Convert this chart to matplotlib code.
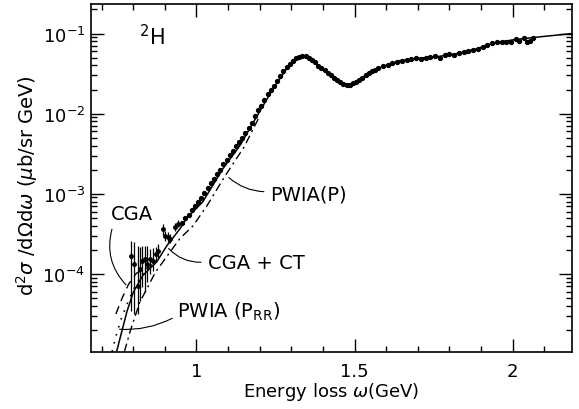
import matplotlib
matplotlib.use('Agg')
import matplotlib.pyplot as plt
from matplotlib.ticker import MultipleLocator, LogLocator, NullFormatter, FixedLocator

plt.rcParams['font.family'] = 'DejaVu Sans'
plt.rcParams['mathtext.fontset'] = 'dejavusans'

# measured data with error bars (low energy loss), cross sections in ub/sr GeV
w_err = [0.794, 0.801, 0.814, 0.820, 0.829, 0.836, 0.844, 0.852, 0.863,
         0.871, 0.877, 0.893, 0.900, 0.909, 0.916, 0.931, 0.941]
sig_err = [1.68e-4, 1.33e-4, 7.08e-5, 1.15e-4, 1.45e-4, 1.55e-4, 1.33e-4, 1.55e-4, 1.45e-4,
           1.78e-4, 1.95e-4, 3.63e-4, 2.99e-4, 2.88e-4, 2.75e-4, 3.89e-4, 4.22e-4]
bar_top = [2.57e-4, 2.51e-4, 2.24e-4, 2.19e-4, 2.24e-4, 2.24e-4, 2.24e-4, 2.04e-4, 2.09e-4,
           2.19e-4, 2.34e-4, 4.17e-4, 3.47e-4, 3.31e-4, 3.16e-4, 4.37e-4, 4.68e-4]
bar_bot = [3.47e-5, 3.16e-5, 3.16e-5, 4.57e-5, 6.92e-5, 6.03e-5, 7.94e-5, 1.00e-4, 1.10e-4,
           1.41e-4, 1.58e-4, 3.09e-4, 2.57e-4, 2.51e-4, 2.40e-4, 3.47e-4, 3.80e-4]

# measured data, rest of the spectrum
w_data = [0.955, 0.965, 0.975, 0.985, 0.995, 1.005, 1.015, 1.025, 1.035, 1.045,
          1.055, 1.065, 1.075, 1.085, 1.095, 1.105, 1.115, 1.125, 1.135, 1.145,
          1.155, 1.165, 1.175, 1.185, 1.195, 1.205, 1.215, 1.225, 1.235, 1.245,
          1.255, 1.265, 1.275, 1.285, 1.295, 1.305, 1.315, 1.325, 1.335, 1.345,
          1.355, 1.365, 1.375, 1.385, 1.395, 1.405, 1.415, 1.425, 1.435, 1.445,
          1.455, 1.465, 1.475, 1.485, 1.495, 1.505, 1.515, 1.525, 1.535, 1.545,
          1.555, 1.565, 1.575, 1.59, 1.605, 1.62, 1.635, 1.65, 1.665, 1.68,
          1.695, 1.71, 1.725, 1.74, 1.755, 1.77, 1.785, 1.80, 1.815, 1.83,
          1.845, 1.86, 1.875, 1.89, 1.905, 1.92, 1.935, 1.95, 1.965, 1.98,
          1.995, 2.01, 2.02, 2.035, 2.045, 2.055, 2.065]
sig_data = [4.37e-4, 5.01e-4, 5.50e-4, 6.31e-4, 7.08e-4, 7.94e-4, 8.91e-4, 1.02e-3, 1.18e-3, 1.38e-3,
            1.51e-3, 1.74e-3, 2.00e-3, 2.34e-3, 2.63e-3, 3.02e-3, 3.39e-3, 3.98e-3, 4.47e-3, 5.01e-3,
            5.75e-3, 6.61e-3, 7.59e-3, 9.33e-3, 1.10e-2, 1.26e-2, 1.48e-2, 1.74e-2, 2.00e-2, 2.24e-2,
            2.57e-2, 2.95e-2, 3.39e-2, 3.80e-2, 4.17e-2, 4.57e-2, 4.90e-2, 5.13e-2, 5.25e-2, 5.25e-2,
            5.01e-2, 4.68e-2, 4.37e-2, 3.98e-2, 3.72e-2, 3.55e-2, 3.24e-2, 3.02e-2, 2.82e-2, 2.63e-2,
            2.51e-2, 2.34e-2, 2.29e-2, 2.29e-2, 2.40e-2, 2.51e-2, 2.63e-2, 2.82e-2, 3.02e-2, 3.24e-2,
            3.39e-2, 3.55e-2, 3.72e-2, 3.89e-2, 4.07e-2, 4.27e-2, 4.47e-2, 4.57e-2, 4.68e-2, 4.79e-2,
            5.01e-2, 4.79e-2, 5.01e-2, 5.13e-2, 5.25e-2, 5.01e-2, 5.37e-2, 5.50e-2, 5.37e-2, 5.75e-2,
            5.89e-2, 6.03e-2, 6.17e-2, 6.46e-2, 6.76e-2, 7.24e-2, 7.59e-2, 7.76e-2, 7.76e-2, 7.94e-2,
            7.94e-2, 8.51e-2, 8.13e-2, 8.71e-2, 7.76e-2, 8.13e-2, 8.71e-2]

# CGA + CT (solid)
w_cgact = [0.748, 0.765, 0.78, 0.80, 0.83, 0.874, 0.906, 0.947, 0.97, 1.02, 1.083, 1.137,
           1.19, 1.242, 1.285, 1.315, 1.337, 1.36, 1.40, 1.432, 1.46, 1.48, 1.51, 1.54,
           1.59, 1.643, 1.697, 1.76, 1.824, 1.887, 1.938, 2.0, 2.065, 2.19]
sig_cgact = [1.10e-5, 2.00e-5, 3.39e-5, 5.89e-5, 9.55e-5, 1.41e-4, 2.24e-4, 3.63e-4, 5.01e-4, 7.94e-4, 2.04e-3, 3.98e-3,
             9.12e-3, 2.04e-2, 3.63e-2, 4.68e-2, 5.25e-2, 4.79e-2, 3.63e-2, 2.88e-2, 2.40e-2, 2.29e-2, 2.51e-2, 3.16e-2,
             3.89e-2, 4.57e-2, 4.90e-2, 5.13e-2, 5.62e-2, 6.46e-2, 7.59e-2, 8.32e-2, 8.91e-2, 1.00e-1]

# CGA (dashed)
w_cga = [0.745, 0.765, 0.785, 0.81, 0.84, 0.87]
sig_cga = [3.16e-5, 5.01e-5, 7.41e-5, 1.02e-4, 1.17e-4, 1.38e-4]

# PWIA(P) (dash-dot)
w_pwia = [0.772, 0.79, 0.82, 0.87, 0.947, 0.989, 1.033, 1.09, 1.15, 1.20]
sig_pwia = [1.07e-5, 1.91e-5, 4.37e-5, 1.05e-4, 2.75e-4, 3.98e-4, 7.08e-4, 1.66e-3, 3.80e-3, 9.33e-3]

# PWIA(P_RR) (dotted)
w_prr = [0.733, 0.745, 0.76, 0.78, 0.80, 0.83, 0.86]
sig_prr = [1.07e-5, 1.66e-5, 2.63e-5, 4.17e-5, 6.31e-5, 1.00e-4, 1.32e-4]

fig = plt.figure(figsize=(5.79, 4.10), dpi=100)
ax = fig.add_axes([0.157, 0.139, 0.831, 0.849])

ax.plot(w_cgact, sig_cgact, color='black', lw=1.1)
ax.plot(w_cga, sig_cga, color='black', lw=1.0, dashes=(6, 4))
ax.plot(w_pwia, sig_pwia, color='black', lw=1.0, dashes=(6, 3, 1.5, 3))
ax.plot(w_prr, sig_prr, color='black', lw=1.2, dashes=(1, 4))

yerr = [[s - b for s, b in zip(sig_err, bar_bot)], [t - s for s, t in zip(sig_err, bar_top)]]
ax.errorbar(w_err, sig_err, yerr=yerr, fmt='o', color='black', ms=2.5, elinewidth=0.9, capsize=0)
ax.plot(w_data, sig_data, 'o', color='black', ms=2.8)

ax.set_yscale('log')
ax.set_xlim(0.666, 2.188)
ax.set_ylim(1.06e-5, 0.234)

ax.xaxis.set_major_locator(FixedLocator([1, 1.5, 2]))
ax.set_xticklabels(['1', '1.5', '2'])
ax.xaxis.set_minor_locator(MultipleLocator(0.1))
ax.yaxis.set_major_locator(LogLocator(base=10))
ax.yaxis.set_minor_locator(LogLocator(base=10, subs=range(2, 10)))
ax.yaxis.set_minor_formatter(NullFormatter())

ax.tick_params(which='both', direction='in', top=True, right=True, width=1.0, labelsize=13)
ax.tick_params(which='major', length=9.5)
ax.tick_params(which='minor', length=4)
ax.tick_params(axis='x', pad=7)
ax.tick_params(axis='y', pad=4)
for sp in ax.spines.values():
    sp.set_linewidth(1.2)

ax.set_xlabel(r'Energy loss $\omega$(GeV)', fontsize=13)
ax.xaxis.set_label_coords(0.5, -0.08)
ax.xaxis.label.set_va('top')
ax.set_ylabel(r'd$^2\sigma$ /d$\Omega$d$\omega$ ($\mu$b/sr GeV)', fontsize=14)
ax.yaxis.set_label_coords(-0.105, 0.48)

ax.text(0.859, 0.094, r'$^2$H', fontsize=15, ha='center', va='center')

lead = dict(arrowstyle='-', color='black', lw=0.8)
ax.text(0.795, 5.6e-4, 'CGA', fontsize=14, ha='center', va='center')
ax.annotate('', xy=(0.783, 6.9e-5), xytext=(0.735, 3.9e-4),
            arrowprops=dict(lead, connectionstyle='arc3,rad=0.3'))
ax.text(1.036, 1.38e-4, 'CGA + CT', fontsize=14, ha='left', va='center')
ax.annotate('', xy=(0.906, 2.2e-4), xytext=(1.023, 1.4e-4),
            arrowprops=dict(lead, connectionstyle='arc3,rad=-0.25'))
ax.text(1.232, 1.0e-3, 'PWIA(P)', fontsize=14, ha='left', va='center')
ax.annotate('', xy=(1.096, 1.68e-3), xytext=(1.222, 1.06e-3),
            arrowprops=dict(lead, connectionstyle='arc3,rad=-0.2'))
ax.text(0.938, 3.5e-5, r'PWIA (P$_{\mathrm{RR}}$)', fontsize=14, ha='left', va='center')
ax.annotate('', xy=(0.748, 2.05e-5), xytext=(0.931, 2.9e-5),
            arrowprops=dict(lead, connectionstyle='arc3,rad=-0.15'))

plt.savefig('out.png', dpi=100)
